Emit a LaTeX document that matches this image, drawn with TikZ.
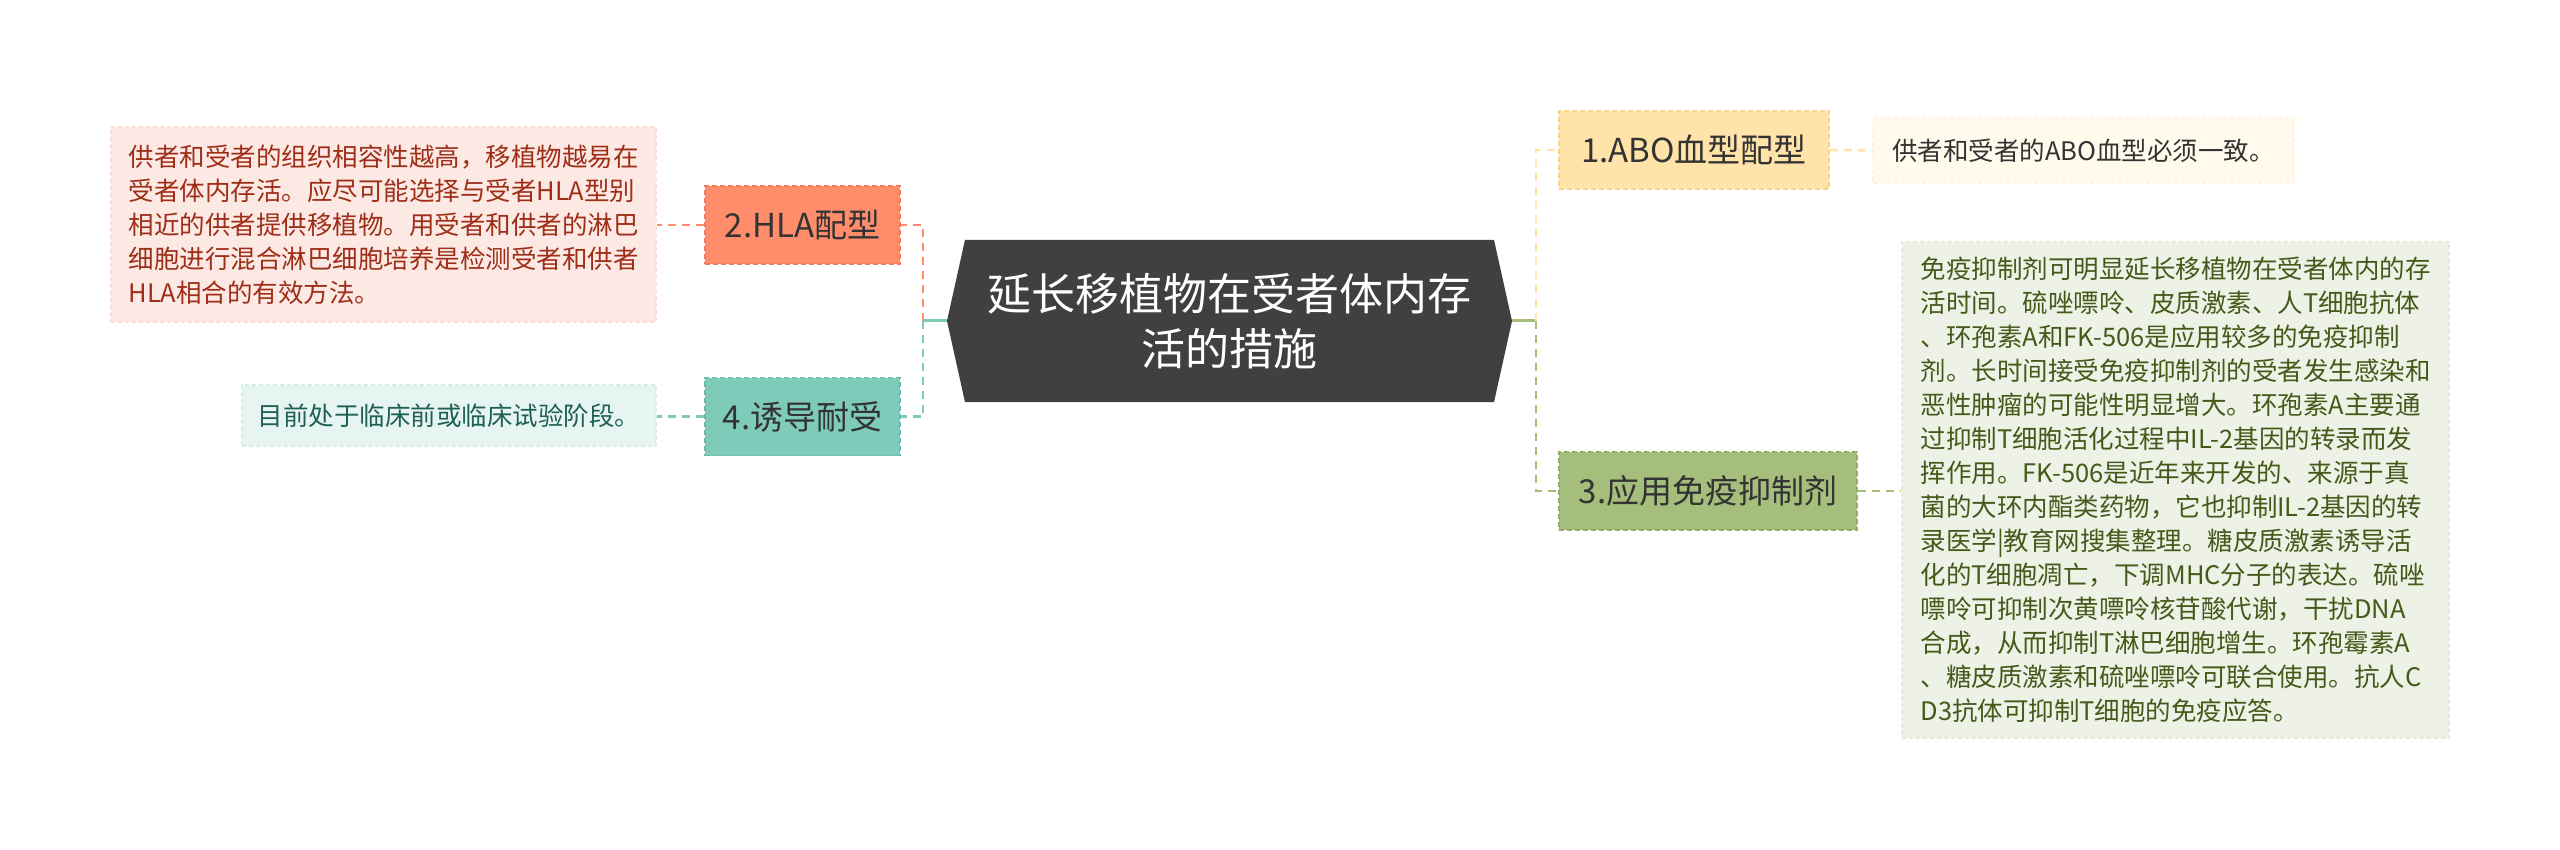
\documentclass[tikz,border=0pt]{standalone}
\usepackage{fontspec}
\setmainfont{Noto Sans CJK SC}
\usetikzlibrary{shapes.symbols}
\definecolor{topicgray}{HTML}{404040}
\definecolor{abofill}{HTML}{FFE3A9}
\definecolor{aboline}{HTML}{F6D389}
\definecolor{abonote}{HTML}{FFFAEC}
\definecolor{hlafill}{HTML}{FF8C6B}
\definecolor{hlaline}{HTML}{F27D5C}
\definecolor{hlanote}{HTML}{FDE9E4}
\definecolor{hlatext}{HTML}{9E2E18}
\definecolor{tolfill}{HTML}{7ECBBA}
\definecolor{tolline}{HTML}{6CBCA9}
\definecolor{tolnote}{HTML}{E6F5F1}
\definecolor{toltext}{HTML}{1F6152}
\definecolor{immfill}{HTML}{A5BE7B}
\definecolor{immline}{HTML}{94AE69}
\definecolor{immnote}{HTML}{EEF2E6}
\definecolor{immtext}{HTML}{44591A}

\begin{document}
\begin{tikzpicture}[x=1pt,y=-1pt,
    topic/.style={signal, signal to=west and east, signal pointer angle=155,
        fill=topicgray, text=white, align=center, inner sep=0pt,
        minimum width=565pt, minimum height=162pt,
        font=\fontsize{44}{55}\selectfont},
    branch/.style={draw, line width=1.5pt, dash pattern=on 5pt off 3pt,
        text=black!80, inner sep=0pt, minimum height=78pt,
        font=\fontsize{33}{38}\selectfont},
    note/.style={draw, line width=1.2pt, dash pattern=on 4pt off 3pt,
        align=left, inner sep=0pt, font=\fontsize{25.5}{34}\selectfont},
    link/.style={line width=2.5pt, dash pattern=on 8pt off 6pt},
    stub/.style={line width=3pt}]
    \useasboundingbox (0,0) rectangle (2560,850);
    \fill[white] (0,0) rectangle (2560,850);
    % Topic
    \node[topic] (C) at (1229.5,321) {延长移植物在受者体内存\\活的措施};
    \coordinate (LJ) at (923,321);
    \coordinate (RJ) at (1536,321);
    % Right branches
    \node[branch, fill=abofill, draw=aboline, minimum width=270pt] (N1) at (1694,150) {1.ABO血型配型};
    \node[note, fill=abonote, draw=abonote!85!aboline, text=black!80, minimum width=421pt, minimum height=65pt] (D1) at (2083.5,150.5) {供者和受者的ABO血型必须一致。};
    \node[branch, fill=immfill, draw=immline, minimum width=298pt] (N3) at (1708,491) {3.应用免疫抑制剂};
    \node[note, fill=immnote, draw=immnote!88!immline, text=immtext, minimum width=547pt, minimum height=496pt] (D3) at (2175.5,490) {免疫抑制剂可明显延长移植物在受者体内的存\\活时间。硫唑嘌呤、皮质激素、人T细胞抗体\\、环孢素A和FK-506是应用较多的免疫抑制\\剂。长时间接受免疫抑制剂的受者发生感染和\\恶性肿瘤的可能性明显增大。环孢素A主要通\\过抑制T细胞活化过程中IL-2基因的转录而发\\挥作用。FK-506是近年来开发的、来源于真\\菌的大环内酯类药物，它也抑制IL-2基因的转\\录医学|教育网搜集整理。糖皮质激素诱导活\\化的T细胞凋亡，下调MHC分子的表达。硫唑\\嘌呤可抑制次黄嘌呤核苷酸代谢，干扰DNA\\合成，从而抑制T淋巴细胞增生。环孢霉素A\\、糖皮质激素和硫唑嘌呤可联合使用。抗人C\\D3抗体可抑制T细胞的免疫应答。};
    % Left branches
    \node[branch, fill=hlafill, draw=hlaline, minimum width=195pt] (N2) at (802.5,225) {2.HLA配型};
    \node[note, fill=hlanote, draw=hlanote!88!hlaline, text=hlatext, minimum width=545pt, minimum height=195pt] (D2) at (383.5,224.5) {供者和受者的组织相容性越高，移植物越易在\\受者体内存活。应尽可能选择与受者HLA型别\\相近的供者提供移植物。用受者和供者的淋巴\\细胞进行混合淋巴细胞培养是检测受者和供者\\HLA相合的有效方法。};
    \node[branch, fill=tolfill, draw=tolline, minimum width=195pt] (N4) at (802.5,416.5) {4.诱导耐受};
    \node[note, fill=tolnote, draw=tolnote!88!tolline, text=toltext, minimum width=414pt, minimum height=61pt] (D4) at (449,415.5) {目前处于临床前或临床试验阶段。};
    % Links
    \draw[stub, draw=tolfill] (C.west) -- (LJ);
    \draw[stub, draw=immfill] (C.east) -- (RJ);
    \draw[link, draw=hlafill] (LJ) |- (N2.east);
    \draw[link, draw=tolfill] (LJ) |- (N4.east);
    \draw[link, draw=abofill] (RJ) |- (N1.west);
    \draw[link, draw=immfill] (RJ) |- (N3.west);
    \draw[link, draw=abofill] (N1.east) -- (D1.west);
    \draw[link, draw=immfill] (N3.east) -- (D3.west |- N3.east);
    \draw[link, draw=hlafill] (N2.west) -- (D2.east |- N2.west);
    \draw[link, draw=tolfill] (N4.west) -- (D4.east |- N4.west);
\end{tikzpicture}
\end{document}
